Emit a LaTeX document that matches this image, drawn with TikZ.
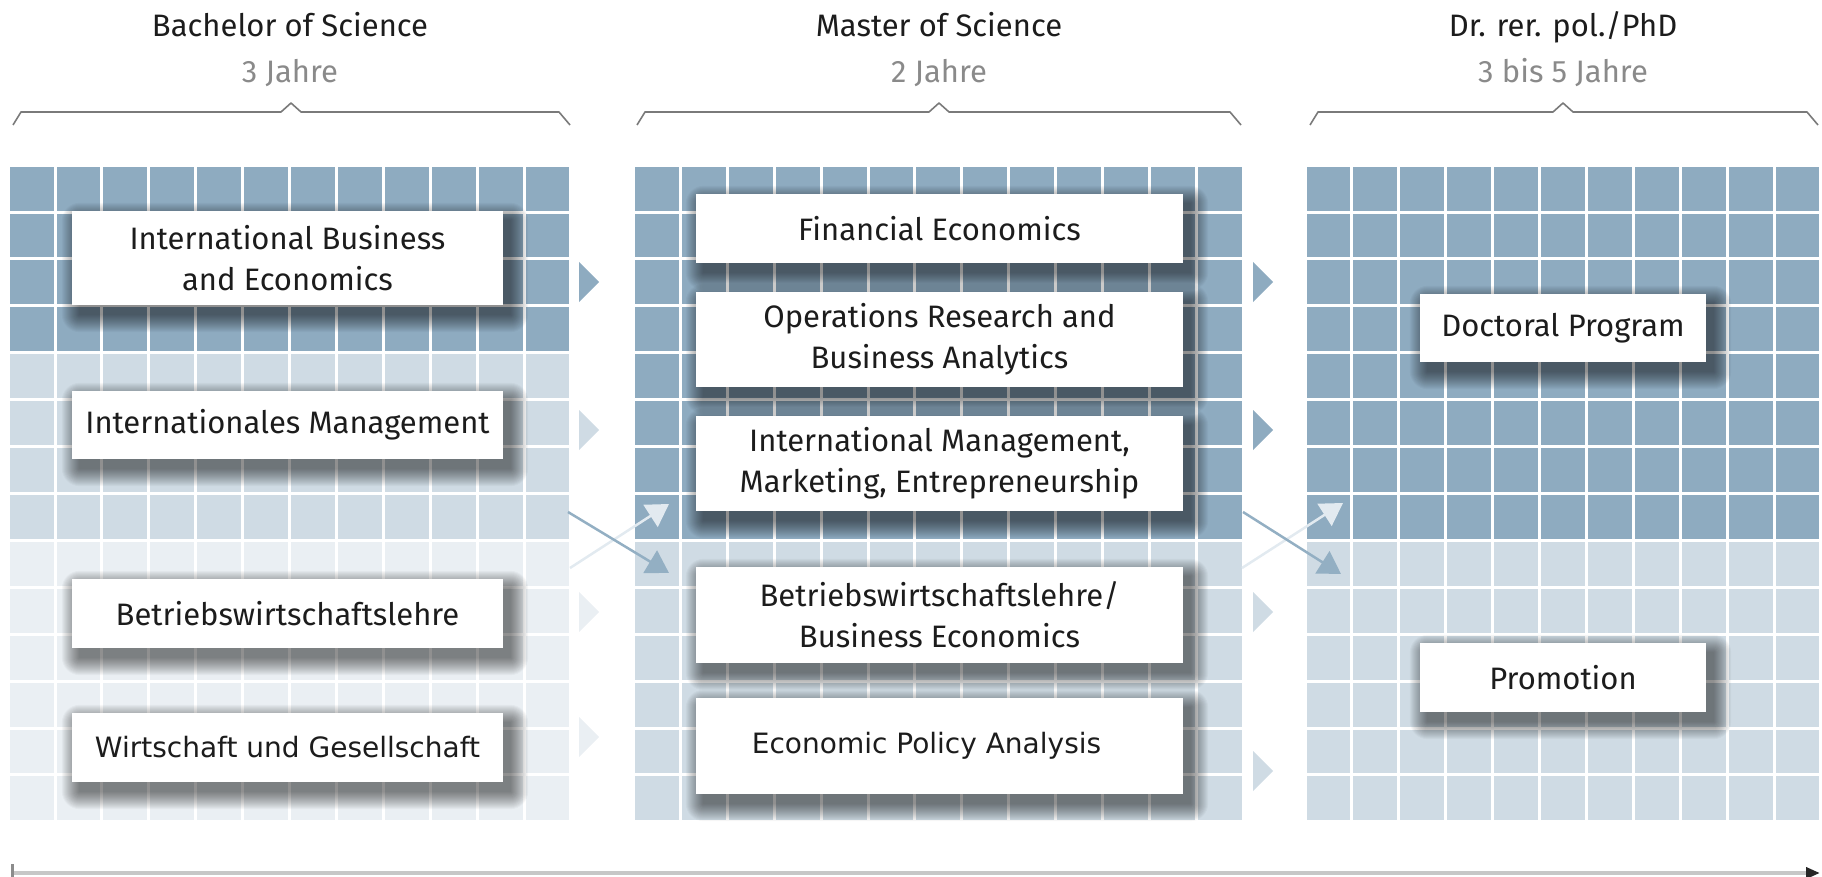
\documentclass[tikz,border=0pt]{standalone}
\usepackage{fontspec}
\setmainfont{Fira Sans}
\newfontfamily\altfont{DejaVu Sans}
\usetikzlibrary{arrows.meta,calc}
\definecolor{cdark}{HTML}{8EABC0}
\definecolor{cmed}{HTML}{CFDBE4}
\definecolor{clight}{HTML}{EAEFF3}
\definecolor{cdown}{HTML}{93AFC3}
\definecolor{cup}{HTML}{E2EAF0}
\definecolor{ctext}{HTML}{1C1C1C}
\definecolor{csub}{HTML}{8A8A8A}
\definecolor{cbrace}{HTML}{7A7A7A}
\pgfdeclarelayer{gridl}
\pgfdeclarelayer{shadl}
\pgfsetlayers{gridl,shadl,main}
\tikzset{
  prog/.style={fill=white, inner sep=0pt, align=center, text=ctext,
    font=\fontsize{31}{41}\selectfont},
  progalt/.style={prog, font=\altfont\fontsize{28}{34}\selectfont},
  ttl/.style={anchor=base, text=ctext, font=\fontsize{31}{37}\selectfont},
  sub/.style={anchor=base, text=csub, font=\fontsize{31}{37}\selectfont},
  bracestyle/.style={draw=cbrace, line width=1.6pt, line join=round},
  diagdown/.style={draw=cdown, line width=2.5pt, -{Triangle[length=22pt,width=26pt]}},
  diagup/.style={draw=cup, line width=2.5pt, -{Triangle[length=22pt,width=26pt]}},
  shadowpiece/.style={fill=black, opacity=0.03},
}
\begin{document}
\begin{tikzpicture}[x=1pt,y=-1pt]
\useasboundingbox (0,0) rectangle (1822,877);

\begin{pgfonlayer}{gridl}
% grids
\foreach \gx/\nc/\nd/\nm in {9.6/12/4/8, 635/13/8/14, 1306.5/11/8/14}{
  \foreach \r in {0,...,13}{
    \ifnum\r<\nd \def\cc{cdark}\else\ifnum\r<\nm \def\cc{cmed}\else\def\cc{clight}\fi\fi
    \foreach \c in {1,...,\nc}{
      \fill[\cc] ({\gx+(\c-1)*46.9}, {166.7+\r*46.9}) rectangle ++(43.9,43.9);
    }
  }
}
% gap triangles
\foreach \tx/\ty/\tc in {579/282/cdark, 579/430/cmed, 579/612/clight, 579/737/clight,
                         1253/282/cdark, 1253/430/cdark, 1253/612/cmed, 1253/771/cmed}{
  \fill[\tc] (\tx,\ty-20) -- (\tx+20,\ty) -- (\tx,\ty+20) -- cycle;
}
% diagonal arrows
\coordinate (d1s) at (568,512); \coordinate (d1e) at (669,573);
\coordinate (u1s) at (570,568); \coordinate (u1e) at (669,504);
\coordinate (d2s) at (1243,512); \coordinate (d2e) at (1341,574);
\coordinate (u2s) at (1242,568); \coordinate (u2e) at (1343,503);
\draw[diagup] (u1s) -- (u1e);
\draw[diagdown] (d1s) -- (d1e);
\draw[diagup] (u2s) -- (u2e);
\draw[diagdown] (d2s) -- (d2e);
\end{pgfonlayer}

% titles
\node[ttl] (t1) at (290,37) {Bachelor of Science};
\node[sub] (s1) at (290,83) {3 Jahre};
\node[ttl] (t2) at (939,37) {Master of Science};
\node[sub] (s2) at (939,83) {2 Jahre};
\node[ttl] (t3) at (1563,37) {Dr. rer. pol./PhD};
\node[sub] (s3) at (1563,83) {3 bis 5 Jahre};

% braces
\foreach \a/\m/\b in {13/291/570, 637/939/1241, 1310/1563/1818}{
  \draw[bracestyle] (\a,125) -- (\a+8,112) -- (\m-10,112) -- (\m,103) -- (\m+10,112) -- (\b-11,112) -- (\b,125);
}

% boxes
\node[prog, minimum width=431pt, minimum height=94pt] (ibe) at (287.5,258) {International Business\\and Economics};
\node[prog, minimum width=431pt, minimum height=68pt] (im) at (287.5,425) {Internationales Management};
\node[prog, minimum width=431pt, minimum height=69pt] (bwl) at (287.5,613.5) {Betriebswirtschaftslehre};
\node[progalt, minimum width=431pt, minimum height=69pt] (wug) at (287.5,747.5) {Wirtschaft und Gesellschaft};

\node[prog, minimum width=487pt, minimum height=69pt] (fe) at (939.5,228.5) {Financial Economics};
\node[prog, minimum width=487pt, minimum height=95pt] (or) at (939.5,339.5) {Operations Research and\\Business Analytics};
\node[prog, minimum width=487pt, minimum height=95pt] (imm) at (939.5,463.5) {International Management,\\Marketing, Entrepreneurship};
\node[prog, minimum width=487pt, minimum height=96pt] (bwlbe) at (939.5,615) {Betriebswirtschaftslehre/\\Business Economics};
\node[progalt, minimum width=487pt, minimum height=96pt] (epa) at (939.5,746) {\hspace*{-26pt}Economic Policy Analysis};

\node[prog, minimum width=286pt, minimum height=68pt] (doc) at (1563,328) {Doctoral Program};
\node[prog, minimum width=286pt, minimum height=69pt] (prom) at (1563,677.5) {Promotion};

% soft shadows
\begin{pgfonlayer}{shadl}
\foreach \n in {ibe,im,bwl,wug,fe,or,imm,bwlbe,epa,doc,prom}{
  \foreach \k in {1,...,18}{
    \fill[shadowpiece, rounded corners=\k pt] ($(\n.north west)+(8-\k,10-\k)$) rectangle ($(\n.south east)+(7+\k,9+\k)$);
  }
}
\end{pgfonlayer}

% timeline
\coordinate (tl) at (12,873);
\coordinate (tr) at (1820,873);
\draw[line width=4pt, draw=black!22, -{Triangle[length=14pt,width=11pt,color=black!85]}] (tl) -- (tr);
\draw[line width=3pt, draw=black!45] (12,864) -- (12,877);
\end{tikzpicture}
\end{document}
